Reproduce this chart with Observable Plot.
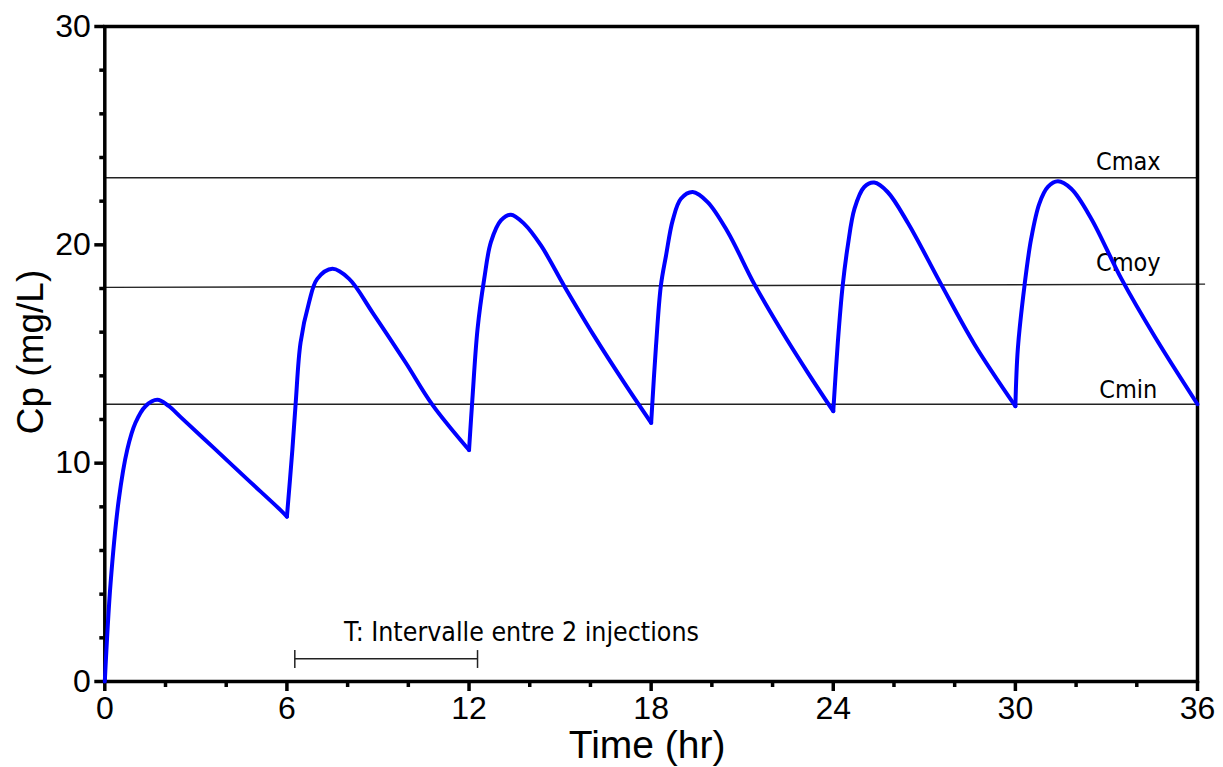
<!DOCTYPE html>
<html>
<head>
<meta charset="utf-8">
<script src="https://cdn.jsdelivr.net/npm/d3@7"></script>
<script src="https://cdn.jsdelivr.net/npm/@observablehq/plot@0.6"></script>
<style>
  html, body { margin: 0; padding: 0; background: #fff; }
</style>
</head>
<body>
<div id="chart"></div>
<script>
// ---- Data ----
const doseNo = [
  1,1,1,1,1,1,1,1,1,1,1,1,1,
  2,2,2,2,2,2,2,2,2,2,2,2,
  3,3,3,3,3,3,3,3,3,3,3,3,3,
  4,4,4,4,4,4,4,4,4,4,4,4,4,
  5,5,5,5,5,5,5,5,5,5,5,5,
  6,6,6,6,6,6,6,6,6,6,6,6
];
const timeHr = [
  0, 0.19, 0.46, 0.74, 1.01, 1.34, 1.73, 2.1, 2.5, 3.59, 4.69, 5.79, 6.0,
  6.0, 6.18, 6.29, 6.45, 6.73, 7.0, 7.5, 8.05, 8.82, 9.91, 10.79, 12.0,
  12.0, 12.11, 12.28, 12.5, 12.72, 13.05, 13.38, 13.81, 14.37, 15.13, 16.12, 17.11, 18.0,
  18.0, 18.16, 18.32, 18.49, 18.71, 18.98, 19.37, 19.86, 20.52, 21.4, 22.28, 23.16, 24.0,
  24.0, 24.15, 24.31, 24.48, 24.7, 25.02, 25.35, 25.79, 26.46, 27.55, 28.65, 30.0,
  30.0, 30.08, 30.3, 30.52, 30.79, 31.07, 31.4, 31.84, 32.5, 33.49, 34.59, 36.0
];
const cpMgL = [
  0, 4.49, 8.32, 10.62, 11.85, 12.61, 12.9, 12.62, 12.11, 10.7, 9.27, 7.85, 7.55,
  7.55, 10.62, 12.77, 15.53, 17.37, 18.44, 18.9, 18.44, 16.9, 14.61, 12.68, 10.6,
  10.6, 12.92, 16.14, 18.44, 20.12, 21.12, 21.38, 20.97, 19.97, 18.13, 15.83, 13.69, 11.85,
  11.85, 15.37, 18.13, 19.51, 21.12, 22.11, 22.42, 21.96, 20.6, 18.2, 16.1, 14.15, 12.38,
  12.38, 15.53, 18.13, 19.97, 21.66, 22.65, 22.85, 22.42, 21.0, 18.2, 15.45, 12.61,
  12.61, 15.22, 18.13, 20.28, 21.89, 22.65, 22.91, 22.57, 21.2, 18.45, 15.8, 12.7
];

// reference levels (Cmax, Cmoy, Cmin); Cmoy is drawn very slightly tilted in the source
const refLabels = ["Cmax", "Cmoy", "Cmin"];
const refLevelStart = [23.07, 18.05, 12.7];
const refLevelEnd = [23.07, 18.2, 12.7];
const refEndTime = [36, 36.25, 36];

// dosing-interval annotation
const intervalText = "T: Intervalle entre 2 injections";
const intervalStart = 6.26;
const intervalEnd = 12.28;

// axis ticks
const xMajorTicks = [0, 6, 12, 18, 24, 30, 36];
const xMinorTicks = [2, 4, 8, 10, 14, 16, 20, 22, 26, 28, 32, 34];
const yMajorTicks = [0, 10, 20, 30];
const yMinorTicks = [2, 4, 6, 8, 12, 14, 16, 18, 22, 24, 26, 28];

// ---- Build table ----
const curve = timeHr.map((t, i) => ({t, c: cpMgL[i], dose: doseNo[i]}));
const refs = refLabels.map((label, i) => ({
  label, y1: refLevelStart[i], y2: refLevelEnd[i], x2: refEndTime[i]
}));

const axisFont = "'Liberation Sans', Arial, Helvetica, sans-serif";
const noteFont = "'DejaVu Sans Condensed', 'DejaVu Sans', sans-serif";
const labelDy = {Cmax: -16, Cmoy: -21.5, Cmin: -14.5};

const chart = Plot.plot({
  width: 1223,
  height: 767,
  marginLeft: 104.3,
  marginRight: 26,
  marginTop: 26,
  marginBottom: 86,
  style: {background: "#fff", overflow: "visible", fontFamily: axisFont},
  x: {domain: [0, 36], axis: null},
  y: {domain: [0, 30], axis: null},
  marks: [
    // reference lines
    Plot.link(refs, {x1: 0, x2: "x2", y1: "y1", y2: "y2", stroke: "#222", strokeWidth: 1.4}),
    ...refLabels.map((lab, i) => Plot.text([refs[i]], {
      x: 33.72, y: d => (d.y1 + d.y2) / 2 + (d.y2 - d.y1) * 0.4, text: "label",
      dy: labelDy[lab], fontSize: 25, fontFamily: noteFont, fill: "#000",
      textAnchor: "middle", lineAnchor: "middle"
    })),
    // interval annotation
    Plot.link([{a: intervalStart, b: intervalEnd}], {x1: "a", x2: "b", y1: 1.04, y2: 1.04, stroke: "#222", strokeWidth: 1.5}),
    Plot.link([intervalStart, intervalEnd], {x1: d => d, x2: d => d, y1: 0.62, y2: 1.44, stroke: "#222", strokeWidth: 1.5}),
    Plot.text([intervalText], {x: 7.88, y: 2.23, text: d => d, textAnchor: "start", lineAnchor: "middle",
      fontSize: 26.5, fontFamily: noteFont, fill: "#000"}),
    // axes
    Plot.axisX({ticks: xMajorTicks, tickSize: 10, tickPadding: 5, strokeWidth: 3.5, fontSize: 32,
      fontFamily: axisFont, label: null, anchor: "bottom", fill: "#000"}),
    Plot.axisX({ticks: xMinorTicks, tickSize: 6, strokeWidth: 3.5, tickFormat: () => "", label: null, anchor: "bottom"}),
    Plot.axisY({ticks: yMajorTicks, tickSize: 10, tickPadding: 4, strokeWidth: 3.5, fontSize: 32,
      fontFamily: axisFont, label: null, anchor: "left", fill: "#000"}),
    Plot.axisY({ticks: yMinorTicks, tickSize: 5, strokeWidth: 3.5, tickFormat: () => "", label: null, anchor: "left"}),
    Plot.frame({stroke: "#000", strokeWidth: 3.5}),
    // axis titles
    Plot.text(["Time (hr)"], {frameAnchor: "bottom", dy: 64, dx: -4, text: d => d, fontSize: 39,
      fontFamily: axisFont, textAnchor: "middle", lineAnchor: "middle", fill: "#000"}),
    Plot.text(["Cp (mg/L)"], {frameAnchor: "left", dx: -74, dy: -2, rotate: -90, text: d => d, fontSize: 37,
      fontFamily: axisFont, textAnchor: "middle", lineAnchor: "middle", fill: "#000"}),
    // concentration curve
    Plot.line(curve, {x: "t", y: "c", z: "dose", stroke: "#0000ff", strokeWidth: 4, curve: "catmull-rom"})
  ]
});
document.getElementById("chart").appendChild(chart);
</script>
</body>
</html>
